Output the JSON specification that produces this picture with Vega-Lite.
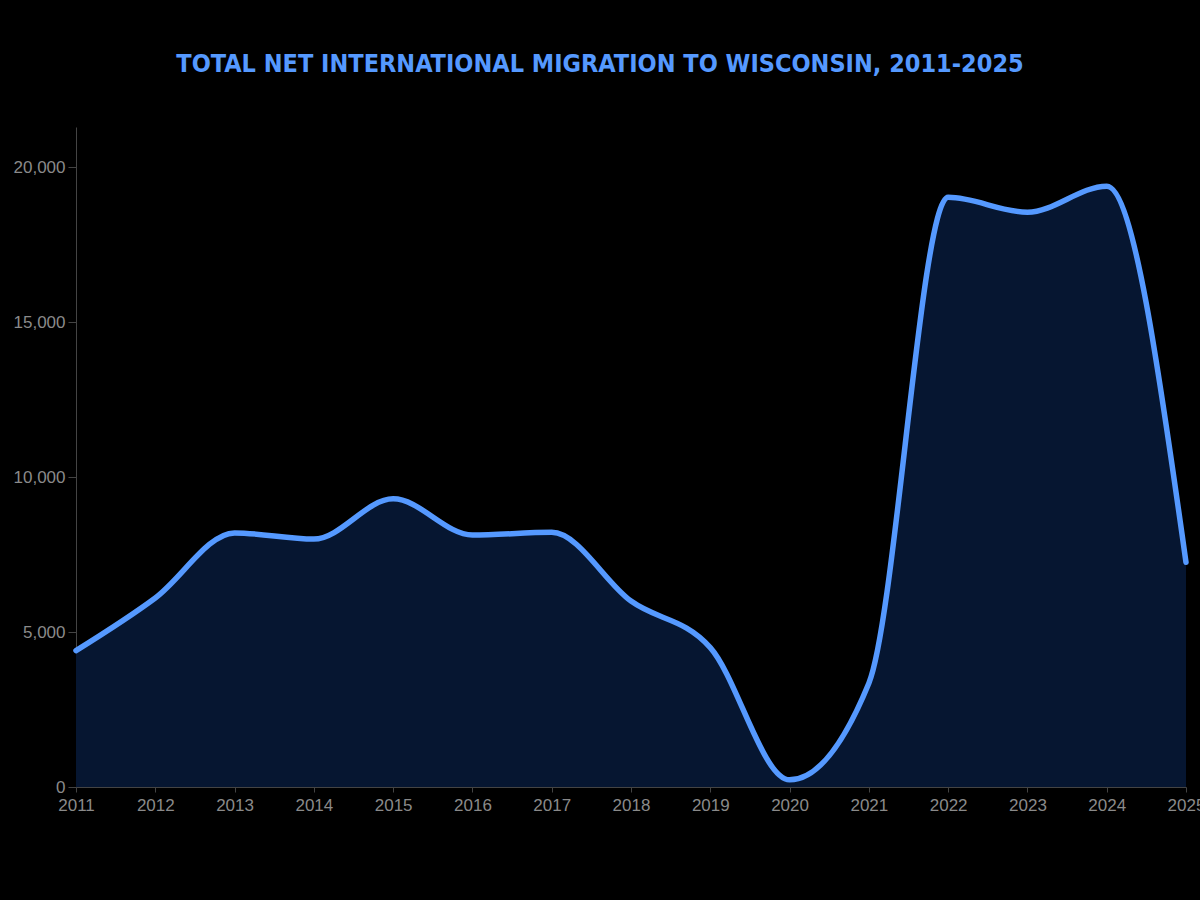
{
  "$schema": "https://vega.github.io/schema/vega-lite/v6.json",
  "width": 1110,
  "height": 660,
  "autosize": {"type": "none"},
  "padding": {"left": 76, "top": 127, "right": 14, "bottom": 113},
  "background": "#000000",
  "title": {
    "text": "TOTAL NET INTERNATIONAL MIGRATION TO WISCONSIN, 2011-2025",
    "color": "#5599ff",
    "font": "DejaVu Sans Condensed",
    "fontWeight": "bold",
    "fontSize": 25,
    "anchor": "middle",
    "dx": -31,
    "baseline": "bottom",
    "offset": 25
  },
  "data": {
    "values": [
      {"year": 2011, "migration": 4400},
      {"year": 2012, "migration": 6100},
      {"year": 2013, "migration": 8200},
      {"year": 2014, "migration": 8000},
      {"year": 2015, "migration": 9300},
      {"year": 2016, "migration": 8130},
      {"year": 2017, "migration": 8220},
      {"year": 2018, "migration": 6000},
      {"year": 2019, "migration": 4500},
      {"year": 2020, "migration": 230},
      {"year": 2021, "migration": 3350},
      {"year": 2022, "migration": 19030},
      {"year": 2023, "migration": 18550},
      {"year": 2024, "migration": 19390},
      {"year": 2025, "migration": 7250}
    ]
  },
  "encoding": {
    "x": {
      "field": "year",
      "type": "quantitative",
      "scale": {"domain": [2011, 2025], "nice": false, "zero": false},
      "axis": {
        "title": null,
        "format": "d",
        "values": [2011, 2012, 2013, 2014, 2015, 2016, 2017, 2018, 2019, 2020, 2021, 2022, 2023, 2024, 2025],
        "grid": false,
        "domainColor": "#444444",
        "tickColor": "#444444",
        "labelColor": "#8a8a8a",
        "labelFont": "Liberation Sans",
        "labelFontSize": 17,
        "labelOverlap": false,
        "labelFlush": false,
        "labelPadding": 5,
        "tickSize": 5
      }
    },
    "y": {
      "field": "migration",
      "type": "quantitative",
      "scale": {"domain": [0, 21300], "nice": false},
      "axis": {
        "title": null,
        "values": [0, 5000, 10000, 15000, 20000],
        "format": ",d",
        "grid": false,
        "domainColor": "#444444",
        "tickColor": "#444444",
        "labelColor": "#8a8a8a",
        "labelFont": "Liberation Sans",
        "labelFontSize": 17,
        "labelPadding": 3,
        "labelFlush": false,
        "tickSize": 8
      }
    }
  },
  "layer": [
    {"mark": {"type": "area", "interpolate": "monotone", "color": "#061631", "opacity": 1}},
    {"mark": {"type": "line", "interpolate": "monotone", "color": "#5599ff", "strokeWidth": 5.5, "strokeCap": "round"}}
  ],
  "config": {"view": {"stroke": null}}
}
